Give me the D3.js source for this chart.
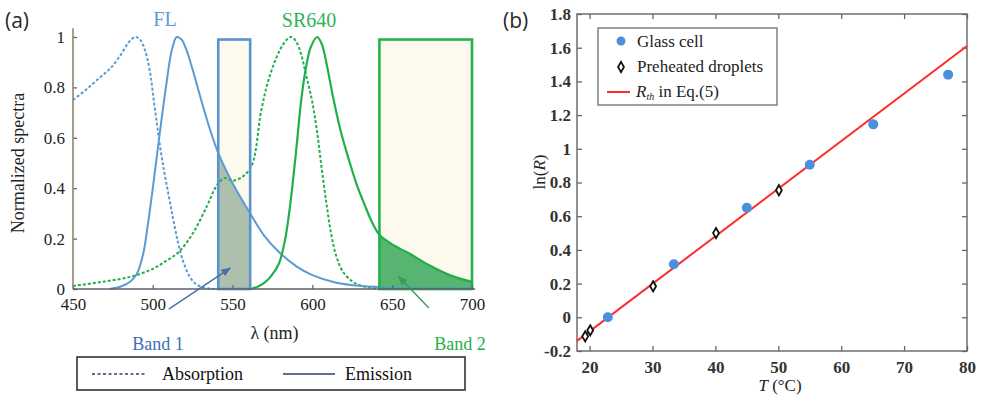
<!DOCTYPE html>
<html lang="en">
<head>
<meta charset="utf-8">
<title>Spectra and ln(R) vs T</title>
<script src="https://d3js.org/d3.v7.min.js"></script>
<style>
  body { margin: 0; background: #fff; }
</style>
</head>
<body>
<script>
// ---- panel (a) data: [wavelength nm, normalized value]
var flAbs = [[450,0.75],[458,0.79],[467,0.84],[474,0.88],[480,0.93],[485,0.98],[489,1.0],[492,0.99],[495,0.95],
  [498,0.87],[501,0.73],[504,0.59],[507,0.47],[510,0.37],[513,0.27],[516,0.18],[519,0.11],[523,0.05],[527,0.02],[532,0.006],[540,0.0]];
var flEm = [[473,0],[480,0.01],[486,0.03],[490,0.06],[494,0.14],[497,0.26],[500,0.40],[504,0.60],[508,0.79],[512,0.95],
  [515,1.0],[518,0.99],[521,0.95],[525,0.87],[529,0.78],[535,0.65],[541,0.54],[550,0.42],[561,0.30],[570,0.21],[579,0.147],
  [590,0.09],[600,0.055],[615,0.025],[631,0.012],[650,0.006],[700,0.003]];
var srAbs = [[450,0.012],[470,0.03],[487,0.05],[500,0.08],[508,0.11],[516,0.145],[525,0.22],[534,0.33],[540,0.41],
  [545,0.44],[550,0.43],[556,0.445],[562,0.49],[568,0.71],[573,0.84],[579,0.94],[584,0.99],[587,1.0],[590,0.98],[593,0.93],
  [596,0.85],[600,0.74],[603,0.62],[606,0.47],[609,0.33],[612,0.21],[615,0.13],[619,0.07],[625,0.03],[631,0.012],[640,0.003]];
var srEm = [[561,0],[566,0.01],[570,0.025],[574,0.05],[579,0.1],[583,0.2],[586,0.33],[588,0.44],[590,0.56],[593,0.75],
  [596,0.88],[599,0.96],[603,1.0],[606,0.97],[609,0.89],[613,0.76],[618,0.62],[623,0.51],[628,0.41],[633,0.33],[637,0.27],
  [642,0.215],[648,0.185],[654,0.163],[661,0.14],[667,0.117],[673,0.095],[679,0.075],[686,0.055],[693,0.04],[700,0.028]];
var band1 = [541, 561];
var band2 = [642, 700];
var bandTop = 0.99;
var xTicksA = [450, 500, 550, 600, 650, 700];
var yTicksA = [0, 0.2, 0.4, 0.6, 0.8, 1];
var yTickLabelsA = ["0", "0.2", "0.4", "0.6", "0.8", "1"];

// ---- panel (b) data
var glassT = [22.9, 33.4, 45.0, 55.0, 65.1, 77.0];
var glassLnR = [0.0, 0.315, 0.65, 0.905, 1.145, 1.44];
var dropT = [19.3, 20.1, 30.1, 40.1, 50.1];
var dropLnR = [-0.113, -0.077, 0.184, 0.50, 0.754];
var fitT = [18, 80];
var fitLnR = [-0.14, 1.61];
var xTicksB = [20, 30, 40, 50, 60, 70, 80];
var yTicksB = [-0.2, 0, 0.2, 0.4, 0.6, 0.8, 1, 1.2, 1.4, 1.6, 1.8];
var yTickLabelsB = ["-0.2", "0", "0.2", "0.4", "0.6", "0.8", "1", "1.2", "1.4", "1.6", "1.8"];

var blue = "#5b9bd5", green = "#1fb04c";
var serif = "'Liberation Serif', 'DejaVu Serif', 'Times New Roman', Times, serif";

var svg = d3.select("body").append("svg")
  .attr("width", 983).attr("height", 398)
  .attr("font-family", serif);

// defs: arrow heads, clip paths
var defs = svg.append("defs");
function marker(id, color) {
  defs.append("marker").attr("id", id)
    .attr("viewBox", "0 0 10 10").attr("refX", 9).attr("refY", 5)
    .attr("markerWidth", 7).attr("markerHeight", 7).attr("orient", "auto")
    .append("path").attr("d", "M0,1 L10,5 L0,9 Z").attr("fill", color);
}
marker("arrBlue", "#4a6fa5");
marker("arrGreen", "#3a9a5a");

// ================= panel (a) =================
var xA = d3.scaleLinear().domain([450, 700]).range([73, 472]);
var yA = d3.scaleLinear().domain([0, 1]).range([289, 37]);
var gA = svg.append("g");

defs.append("clipPath").attr("id", "clipB1").append("rect")
  .attr("x", xA(band1[0])).attr("width", xA(band1[1]) - xA(band1[0]))
  .attr("y", 0).attr("height", 398);
defs.append("clipPath").attr("id", "clipB2").append("rect")
  .attr("x", xA(band2[0])).attr("width", xA(band2[1]) - xA(band2[0]))
  .attr("y", 0).attr("height", 398);

// band backgrounds
[band1, band2].forEach(function(b) {
  gA.append("rect")
    .attr("x", xA(b[0])).attr("y", yA(bandTop))
    .attr("width", xA(b[1]) - xA(b[0])).attr("height", yA(0) - yA(bandTop))
    .attr("fill", "#fdf9ec");
});

var curve = d3.curveCatmullRom.alpha(0.5);
var area = d3.area().curve(curve)
  .x(function(d) { return xA(d[0]); })
  .y0(yA(0)).y1(function(d) { return yA(Math.max(0, d[1])); });

gA.append("path").datum(flEm).attr("d", area)
  .attr("clip-path", "url(#clipB1)").attr("fill", "#adc0ae");
gA.append("path").datum(srEm).attr("d", area)
  .attr("clip-path", "url(#clipB2)").attr("fill", "#57b571");

var line = d3.line().curve(curve)
  .x(function(d) { return xA(d[0]); })
  .y(function(d) { return yA(d[1]); });

gA.append("path").datum(flAbs).attr("d", line).attr("fill", "none")
  .attr("stroke", blue).attr("stroke-width", 2).attr("stroke-dasharray", "3,2");
gA.append("path").datum(srAbs).attr("d", line).attr("fill", "none")
  .attr("stroke", green).attr("stroke-width", 2).attr("stroke-dasharray", "3,2");
gA.append("path").datum(flEm).attr("d", line).attr("fill", "none")
  .attr("stroke", blue).attr("stroke-width", 2);
gA.append("path").datum(srEm).attr("d", line).attr("fill", "none")
  .attr("stroke", green).attr("stroke-width", 2.2);

// band outlines
gA.append("rect")
  .attr("x", xA(band1[0])).attr("y", yA(bandTop))
  .attr("width", xA(band1[1]) - xA(band1[0])).attr("height", yA(0) - yA(bandTop))
  .attr("fill", "none").attr("stroke", "#5a93d0").attr("stroke-width", 2.6);
gA.append("rect")
  .attr("x", xA(band2[0])).attr("y", yA(bandTop))
  .attr("width", xA(band2[1]) - xA(band2[0])).attr("height", yA(0) - yA(bandTop))
  .attr("fill", "none").attr("stroke", "#22b24e").attr("stroke-width", 2.6);

// axes
var yAxisA = d3.axisLeft(yA).tickValues(yTicksA).tickSize(-4).tickSizeOuter(0).tickPadding(8)
  .tickFormat(function(d, i) { return yTickLabelsA[i]; });
var gy = gA.append("g").attr("transform", "translate(" + xA(450) + ",0)").call(yAxisA);
var xAxisA = d3.axisBottom(xA).tickValues(xTicksA).tickSize(-4).tickSizeOuter(0).tickPadding(9);
var gx = gA.append("g").attr("transform", "translate(0," + yA(0) + ")").call(xAxisA);
[gy, gx].forEach(function(g) {
  g.attr("font-family", serif).attr("font-size", 17);
  g.select(".domain").remove();
  g.selectAll(".tick line").attr("stroke", "#666").attr("stroke-width", 1.3);
  g.selectAll("text").attr("fill", "#222");
});
gA.append("line").attr("x1", xA(450)).attr("x2", xA(450))
  .attr("y1", yA(1.035)).attr("y2", yA(0))
  .attr("stroke", "#8a8772").attr("stroke-width", 1.6);
gA.append("line").attr("x1", xA(450)).attr("x2", xA(702))
  .attr("y1", yA(0)).attr("y2", yA(0))
  .attr("stroke", "#5b5f6e").attr("stroke-width", 1.6);

gA.append("text").attr("transform", "translate(24,163) rotate(-90)")
  .attr("text-anchor", "middle").attr("font-size", 18).attr("fill", "#222")
  .text("Normalized spectra");
gA.append("text").attr("x", (xA(450) + xA(700)) / 2 + 2).attr("y", 339)
  .attr("text-anchor", "middle").attr("font-size", 18).attr("fill", "#222")
  .text("λ (nm)");

gA.append("text").attr("x", 165).attr("y", 26).attr("text-anchor", "middle")
  .attr("font-size", 20).attr("fill", blue).text("FL");
gA.append("text").attr("x", 309).attr("y", 27).attr("text-anchor", "middle")
  .attr("font-size", 20).attr("fill", "#2fb35b").text("SR640");

// band annotations
gA.append("line").attr("x1", xA(510)).attr("y1", yA(-0.08))
  .attr("x2", xA(548.5)).attr("y2", yA(0.083))
  .attr("stroke", "#4a6fa5").attr("stroke-width", 1.4).attr("marker-end", "url(#arrBlue)");
gA.append("text").attr("x", 158).attr("y", 350).attr("text-anchor", "middle")
  .attr("font-size", 18).attr("fill", "#3d6fb6").text("Band 1");
gA.append("line").attr("x1", xA(673)).attr("y1", yA(-0.075))
  .attr("x2", xA(654)).attr("y2", yA(0.05))
  .attr("stroke", "#3a9a5a").attr("stroke-width", 1.4).attr("marker-end", "url(#arrGreen)");
gA.append("text").attr("x", 460).attr("y", 350).attr("text-anchor", "middle")
  .attr("font-size", 18).attr("fill", "#22b04b").text("Band 2");

// legend (a)
var legA = gA.append("g");
legA.append("rect").attr("x", 77).attr("y", 357).attr("width", 388).attr("height", 33)
  .attr("fill", "#fff").attr("stroke", "#333").attr("stroke-width", 1.6);
legA.append("line").attr("x1", 92).attr("x2", 147).attr("y1", 374).attr("y2", 374)
  .attr("stroke", "#2d3f6e").attr("stroke-width", 1.3).attr("stroke-dasharray", "3,2.5");
legA.append("text").attr("x", 162).attr("y", 380).attr("font-size", 18).attr("fill", "#111").text("Absorption");
legA.append("line").attr("x1", 283).attr("x2", 335).attr("y1", 374).attr("y2", 374)
  .attr("stroke", "#2d3f6e").attr("stroke-width", 1.3);
legA.append("text").attr("x", 345).attr("y", 380).attr("font-size", 18).attr("fill", "#111").text("Emission");

svg.append("text").attr("x", 5).attr("y", 28)
  .attr("font-family", "'Open Sans', 'Noto Sans', sans-serif")
  .attr("font-size", 21).attr("fill", "#2a2a2a").text("(a)");

// ================= panel (b) =================
var xB = d3.scaleLinear().domain([18, 80]).range([577, 967]);
var yB = d3.scaleLinear().domain([-0.2, 1.8]).range([351, 14]);
var gB = svg.append("g");

gB.append("rect").attr("x", xB(18)).attr("y", yB(1.8))
  .attr("width", xB(80) - xB(18)).attr("height", yB(-0.2) - yB(1.8))
  .attr("fill", "none").attr("stroke", "#777").attr("stroke-width", 1.6);

function styleB(g, labels) {
  g.attr("font-family", serif).attr("font-size", 17);
  g.select(".domain").remove();
  g.selectAll(".tick line").attr("stroke", "#666").attr("stroke-width", 1.3);
  g.selectAll("text").attr("fill", "#333").attr("font-weight", "bold");
  if (!labels) g.selectAll("text").remove();
}
styleB(gB.append("g").attr("transform", "translate(0," + yB(-0.2) + ")")
  .call(d3.axisBottom(xB).tickValues(xTicksB).tickSize(-5).tickSizeOuter(0).tickPadding(10)), true);
styleB(gB.append("g").attr("transform", "translate(0," + yB(1.8) + ")")
  .call(d3.axisTop(xB).tickValues(xTicksB).tickSize(-5).tickSizeOuter(0)), false);
styleB(gB.append("g").attr("transform", "translate(" + xB(18) + ",0)")
  .call(d3.axisLeft(yB).tickValues(yTicksB).tickSize(-5).tickSizeOuter(0).tickPadding(6)
    .tickFormat(function(d, i) { return yTickLabelsB[i]; })), true);
styleB(gB.append("g").attr("transform", "translate(" + xB(80) + ",0)")
  .call(d3.axisRight(yB).tickValues(yTicksB).tickSize(-5).tickSizeOuter(0)), false);

// fit line
gB.append("line")
  .attr("x1", xB(fitT[0])).attr("y1", yB(fitLnR[0]))
  .attr("x2", xB(fitT[1])).attr("y2", yB(fitLnR[1]))
  .attr("stroke", "#ff2a2a").attr("stroke-width", 2);

gB.selectAll("circle.glass").data(glassT).enter().append("circle")
  .attr("class", "glass")
  .attr("cx", function(d) { return xB(d); })
  .attr("cy", function(d, i) { return yB(glassLnR[i]); })
  .attr("r", 5).attr("fill", "#4a90dc");

var diamond = d3.symbol().type(d3.symbolDiamond).size(30);
gB.selectAll("path.drop").data(dropT).enter().append("path")
  .attr("class", "drop").attr("d", diamond)
  .attr("transform", function(d, i) { return "translate(" + xB(d) + "," + yB(dropLnR[i]) + ")"; })
  .attr("fill", "#fff").attr("stroke", "#111").attr("stroke-width", 1.8);

gB.append("text").attr("transform", "translate(545,172) rotate(-90)")
  .attr("text-anchor", "middle").attr("font-size", 17).attr("fill", "#222")
  .html('ln(<tspan font-style="italic">R</tspan>)');
gB.append("text").attr("x", 780).attr("y", 391).attr("text-anchor", "middle")
  .attr("font-size", 17).attr("fill", "#222")
  .html('<tspan font-style="italic">T</tspan> (°C)');

// legend (b)
var legB = gB.append("g");
legB.append("rect").attr("x", 598).attr("y", 28).attr("width", 179).attr("height", 77)
  .attr("fill", "#fff").attr("stroke", "#777").attr("stroke-width", 1.4);
legB.append("circle").attr("cx", 621).attr("cy", 41).attr("r", 4.5).attr("fill", "#4a90dc");
legB.append("text").attr("x", 637).attr("y", 47).attr("font-size", 17).attr("fill", "#222").text("Glass cell");
legB.append("path").attr("d", diamond).attr("transform", "translate(621,67)")
  .attr("fill", "#fff").attr("stroke", "#111").attr("stroke-width", 1.8);
legB.append("text").attr("x", 637).attr("y", 72).attr("font-size", 17).attr("fill", "#222").text("Preheated droplets");
legB.append("line").attr("x1", 607).attr("x2", 630).attr("y1", 92).attr("y2", 92)
  .attr("stroke", "#ff2a2a").attr("stroke-width", 2);
legB.append("text").attr("x", 636).attr("y", 97).attr("font-size", 17).attr("fill", "#222")
  .html('<tspan font-style="italic">R</tspan><tspan font-style="italic" font-size="10" dy="3">th</tspan><tspan dy="-3"> in Eq.(5)</tspan>');

svg.append("text").attr("x", 503).attr("y", 28)
  .attr("font-family", "'Open Sans', 'Noto Sans', sans-serif")
  .attr("font-size", 21).attr("fill", "#2a2a2a").text("(b)");
</script>
</body>
</html>
